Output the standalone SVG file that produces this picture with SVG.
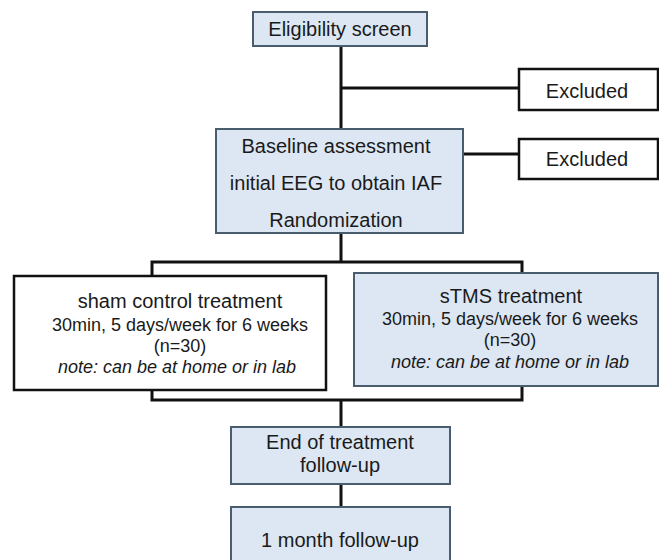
<svg xmlns="http://www.w3.org/2000/svg" width="659" height="560" viewBox="0 0 659 560">
<style>
.blue{fill:#dce7f3;stroke:#4a5d6e;stroke-width:2}
.white{fill:#ffffff;stroke:#111111;stroke-width:2.5}
.t{font-family:"Liberation Sans",Arial,sans-serif;font-size:20px;fill:#1a1a1a;text-anchor:middle}
.s{font-family:"Liberation Sans",Arial,sans-serif;font-size:18px;fill:#1a1a1a;text-anchor:middle}
.i{font-style:italic}
.c{fill:none;stroke:#111111;stroke-width:3}
</style>
<rect width="659" height="560" fill="#ffffff"/>
<g id="connectors">
<line class="c" x1="341" y1="46" x2="341" y2="130"/>
<line class="c" x1="341" y1="88" x2="519" y2="88"/>
<line class="c" x1="463" y1="154" x2="519" y2="154"/>
<line class="c" x1="341" y1="233" x2="341" y2="262"/>
<polyline class="c" points="152,276 152,262 522,262 522,273"/>
<polyline class="c" points="152,390 152,400 522,400 522,386"/>
<line class="c" x1="341" y1="400" x2="341" y2="427"/>
<line class="c" x1="341" y1="484" x2="341" y2="507"/>
</g>
<g id="eligibility">
<rect class="blue" x="253" y="12" width="174" height="34"/>
<text class="t" x="340" y="36">Eligibility screen</text>
</g>
<g id="excluded1">
<rect class="white" x="519" y="69" width="139" height="41"/>
<text class="t" x="587" y="98">Excluded</text>
</g>
<g id="baseline">
<rect class="blue" x="216" y="129" width="247" height="104"/>
<text class="t" x="336" y="153">Baseline assessment</text>
<text class="t" x="336" y="190">initial EEG to obtain IAF</text>
<text class="t" x="336" y="227">Randomization</text>
</g>
<g id="excluded2">
<rect class="white" x="519" y="139" width="139" height="40"/>
<text class="t" x="587" y="166">Excluded</text>
</g>
<g id="sham">
<rect class="white" x="14" y="276" width="312" height="114"/>
<text class="t" x="180" y="308">sham control treatment</text>
<text class="s" x="180" y="331">30min, 5 days/week for 6 weeks</text>
<text class="s" x="180" y="352">(n=30)</text>
<text class="s i" x="177" y="373">note: can be at home or in lab</text>
</g>
<g id="stms">
<rect class="blue" x="354" y="273" width="304" height="113"/>
<text class="t" x="511" y="303">sTMS treatment</text>
<text class="s" x="510" y="325">30min, 5 days/week for 6 weeks</text>
<text class="s" x="510" y="346">(n=30)</text>
<text class="s i" x="510" y="368">note: can be at home or in lab</text>
</g>
<g id="end">
<rect class="blue" x="231" y="427" width="219" height="57"/>
<text class="t" x="340" y="449">End of treatment</text>
<text class="t" x="340" y="472">follow-up</text>
</g>
<g id="month">
<rect class="blue" x="231" y="507" width="219" height="60"/>
<text class="t" x="340" y="547">1 month follow-up</text>
</g>
</svg>
